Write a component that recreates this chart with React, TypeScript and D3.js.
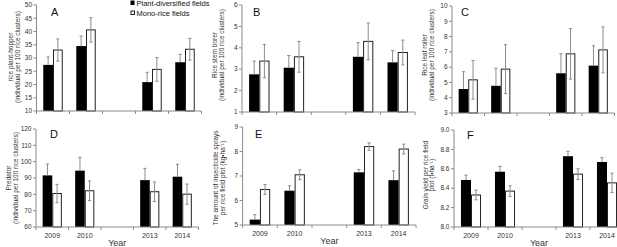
import React from "react";
import * as d3 from "d3";

const categories = ["2009", "2010", "", "2013", "2014"];
const series = ["Plant-diversified fields", "Mono-rice fields"];

// values per panel: [diversified, mono] for slots 2009,2010,2013,2014
const yearsIdx = [0, 1, 3, 4];

const hopperDiv = [27.4, 34.5, 20.9, 28.4];
const hopperDivErr = [3.0, 3.8, 3.7, 3.0];
const hopperMono = [33.0, 40.6, 25.7, 33.3];
const hopperMonoErr = [4.2, 4.6, 4.5, 4.1];

const borerDiv = [2.76, 3.07, 3.58, 3.32];
const borerDivErr = [0.62, 0.57, 0.66, 0.55];
const borerMono = [3.38, 3.58, 4.3, 3.78];
const borerMonoErr = [0.78, 0.72, 0.86, 0.58];

const rollerDiv = [4.57, 4.78, 5.6, 6.1];
const rollerDivErr = [1.13, 1.15, 1.27, 1.3];
const rollerMono = [5.17, 5.87, 6.87, 7.13];
const rollerMonoErr = [1.26, 1.6, 1.65, 1.5];

const predDiv = [91.6, 94.5, 88.7, 90.8];
const predDivErr = [7.0, 8.2, 7.2, 7.6];
const predMono = [80.5, 82.2, 81.6, 80.1];
const predMonoErr = [5.6, 6.0, 6.0, 6.2];

const sprayDiv = [5.22, 6.4, 7.15, 6.83];
const sprayDivErr = [0.2, 0.2, 0.12, 0.38];
const sprayMono = [6.45, 7.05, 8.2, 8.1];
const sprayMonoErr = [0.2, 0.2, 0.15, 0.2];

const yieldDiv = [8.485, 8.57, 8.73, 8.67];
const yieldDivErr = [0.05, 0.055, 0.05, 0.045];
const yieldMono = [8.33, 8.37, 8.545, 8.455];
const yieldMonoErr = [0.05, 0.055, 0.055, 0.1];

const panels = [
  { letter: "A", title: ["rice plant-hopper", "(individual per 100 rice clusters)"], div: hopperDiv, divErr: hopperDivErr, mono: hopperMono, monoErr: hopperMonoErr, domain: [10, 50], step: 5, fmt: "d", x0: 36.5, x1: 201.5, y0: 5, y1: 111, tx: [10, 17], ty: 57, lx: 51, ly: 16, years: false },
  { letter: "B", title: ["Rice stem borer", "(individual per 100 rice clusters)"], div: borerDiv, divErr: borerDivErr, mono: borerMono, monoErr: borerMonoErr, domain: [1, 6], step: 1, fmt: "d", x0: 242, x1: 415, y0: 5, y1: 112, tx: [214, 221], ty: 55, lx: 253, ly: 16, years: false },
  { letter: "C", title: ["Rice leaf roller", "(individual per 100 rice clusters)"], div: rollerDiv, divErr: rollerDivErr, mono: rollerMono, monoErr: rollerMonoErr, domain: [3, 10], step: 1, fmt: "d", x0: 452, x1: 614.5, y0: 6, y1: 113, tx: [424, 431], ty: 55, lx: 461, ly: 16, years: false },
  { letter: "D", title: ["Predator", "(individual per 100 rice clusters)"], div: predDiv, divErr: predDivErr, mono: predMono, monoErr: predMonoErr, domain: [60, 120], step: 10, fmt: "d", x0: 36, x1: 198.5, y0: 129, y1: 227, tx: [8, 15], ty: 178, lx: 50, ly: 138, years: true },
  { letter: "E", title: ["The amount of insecticide sprays", "per rice field plot (kg\u2022ha\u207B\u00B9)"], div: sprayDiv, divErr: sprayDivErr, mono: sprayMono, monoErr: sprayMonoErr, domain: [5, 9], step: 1, fmt: "d", x0: 242.6, x1: 416, y0: 127, y1: 225, tx: [215, 222], ty: 178, lx: 255, ly: 138, years: true },
  { letter: "F", title: ["Grain yield per rice field", "plot (t\u2022ha\u207B\u00B9)"], div: yieldDiv, divErr: yieldDivErr, mono: yieldMono, monoErr: yieldMonoErr, domain: [8, 9], step: 0.2, fmt: ".1f", x0: 454, x1: 624, y0: 130, y1: 227, tx: [425, 431], ty: 175, lx: 467, ly: 139, years: true },
];

const FONT = "'Liberation Sans', Arial, sans-serif";
const AXIS = "#8a8a8a";
const TXT = "#333";
const ERR = "#8c8c8c";

function Panel({ p }: { p: (typeof panels)[number] }) {
  const x = d3.scaleBand<number>().domain(categories.map((_, i) => i)).range([p.x0, p.x1]).padding(0);
  const y = d3.scaleLinear().domain(p.domain).range([p.y1, p.y0]);
  const ticks = d3.range(p.domain[0], p.domain[1] + p.step / 2, p.step);
  const fmt = d3.format(p.fmt);
  const groupW = x.bandwidth() * 0.59;
  const inner = d3.scaleBand<string>().domain(series).range([-groupW / 2, groupW / 2]).padding(0);
  const bw = inner.bandwidth();
  const boundaries = d3.range(0, categories.length + 1).map((i) => p.x0 + i * x.step());
  const cap = 1.6;
  return (
    <g>
      {/* bars */}
      {yearsIdx.map((ci, k) => {
        const cx = (x(ci) as number) + x.bandwidth() / 2;
        const xd = cx + (inner(series[0]) as number);
        const xm = cx + (inner(series[1]) as number);
        const vd = p.div[k], ed = p.divErr[k];
        const vm = p.mono[k], em = p.monoErr[k];
        return (
          <g key={ci}>
            <rect x={xd} y={y(vd)} width={bw} height={y(p.domain[0]) - y(vd)} fill="#000" />
            <rect x={xm + 0.5} y={y(vm)} width={bw - 1} height={y(p.domain[0]) - y(vm)} fill="#fff" stroke="#222" strokeWidth={1} />
            {/* error bars */}
            <line x1={xd + bw / 2} x2={xd + bw / 2} y1={y(vd)} y2={y(vd + ed)} stroke={ERR} strokeWidth={1} />
            <line x1={xd + bw / 2 - cap} x2={xd + bw / 2 + cap} y1={y(vd + ed)} y2={y(vd + ed)} stroke={ERR} strokeWidth={1} />
            <line x1={xm + bw / 2} x2={xm + bw / 2} y1={y(vm - em)} y2={y(vm + em)} stroke={ERR} strokeWidth={1} />
            <line x1={xm + bw / 2 - cap} x2={xm + bw / 2 + cap} y1={y(vm + em)} y2={y(vm + em)} stroke={ERR} strokeWidth={1} />
            <line x1={xm + bw / 2 - cap} x2={xm + bw / 2 + cap} y1={y(vm - em)} y2={y(vm - em)} stroke={ERR} strokeWidth={1} />
          </g>
        );
      })}
      {/* y axis */}
      <line x1={p.x0} x2={p.x0} y1={p.y0} y2={p.y1} stroke={AXIS} strokeWidth={1} />
      {ticks.map((t) => (
        <g key={t}>
          <line x1={p.x0 - 3} x2={p.x0} y1={y(t)} y2={y(t)} stroke={AXIS} strokeWidth={1} />
          <text x={p.x0 - 4.5} y={y(t)} dy="0.35em" textAnchor="end" fontSize={6.5} fill={TXT} fontFamily={FONT}>
            {fmt(t)}
          </text>
        </g>
      ))}
      {/* x axis */}
      <line x1={p.x0} x2={p.x1} y1={p.y1} y2={p.y1} stroke={AXIS} strokeWidth={1} />
      {boundaries.map((b, i) => (
        <line key={i} x1={b} x2={b} y1={p.y1} y2={p.y1 + 3} stroke={AXIS} strokeWidth={1} />
      ))}
      {p.years &&
        categories.map((c, i) => (
          <text key={i} x={(x(i) as number) + x.bandwidth() / 2} y={p.y1 + 11} textAnchor="middle" fontSize={7} fill={TXT} fontFamily={FONT}>
            {c}
          </text>
        ))}
      {p.years && (
        <text x={(x(2) as number) + x.bandwidth() / 2} y={p.y1 + 19} textAnchor="middle" fontSize={9} fill={TXT} fontFamily={FONT}>
          Year
        </text>
      )}
      {/* letter */}
      <text x={p.lx} y={p.ly} fontSize={11} fill="#111" fontFamily={FONT}>
        {p.letter}
      </text>
      {/* y title */}
      {p.title.map((line, i) => (
        <text key={i} transform={`translate(${p.tx[i] + 2.5},${p.ty}) rotate(-90)`} textAnchor="middle" fontSize={6.5} fill={TXT} fontFamily={FONT}>
          {line}
        </text>
      ))}
    </g>
  );
}

export default function App() {
  return (
    <svg width={617} height={247} style={{ position: "absolute", left: 0, top: 0, background: "#fff" }}>
      <rect width={617} height={247} fill="#fff" />
      {panels.map((p) => (
        <Panel key={p.letter} p={p} />
      ))}
      {/* legend */}
      <g fontFamily={FONT} fontSize={7.5} fill="#111">
        <rect x={130.5} y={0.5} width={4} height={4.5} fill="#000" />
        <text x={136.5} y={5.5}>{series[0]}</text>
        <rect x={131} y={11} width={3.5} height={3.5} fill="#fff" stroke="#222" strokeWidth={1} />
        <text x={136.5} y={15.5}>{series[1]}</text>
      </g>
    </svg>
  );
}
